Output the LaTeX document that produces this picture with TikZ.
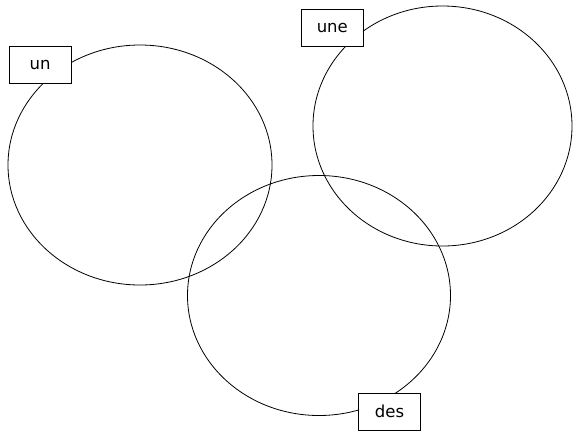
\documentclass[tikz,border=0pt]{standalone}
\usepackage{fontspec}
\setmainfont{DejaVu Sans}
\begin{document}
\begin{tikzpicture}[x=1pt,y=-1pt,
  ring/.style={draw=black,line width=0.8pt},
  tag/.style={draw=black,line width=0.8pt,fill=white,minimum width=62pt,minimum height=37pt,inner sep=0pt,font=\fontsize{16.5}{19}\selectfont}]
\useasboundingbox (0,0) rectangle (573,432);
\draw[ring] (140,165) ellipse [x radius=132pt, y radius=120pt];
\draw[ring] (442.5,126) ellipse [x radius=129.5pt, y radius=120pt];
\draw[ring] (319,295.5) ellipse [x radius=131.5pt, y radius=120pt];
\node[tag] (un) at (40.2,65.3) {un};
\node[tag] (une) at (332.3,28) {une};
\node[tag] (des) at (389.5,411.7) {des};
\end{tikzpicture}
\end{document}
